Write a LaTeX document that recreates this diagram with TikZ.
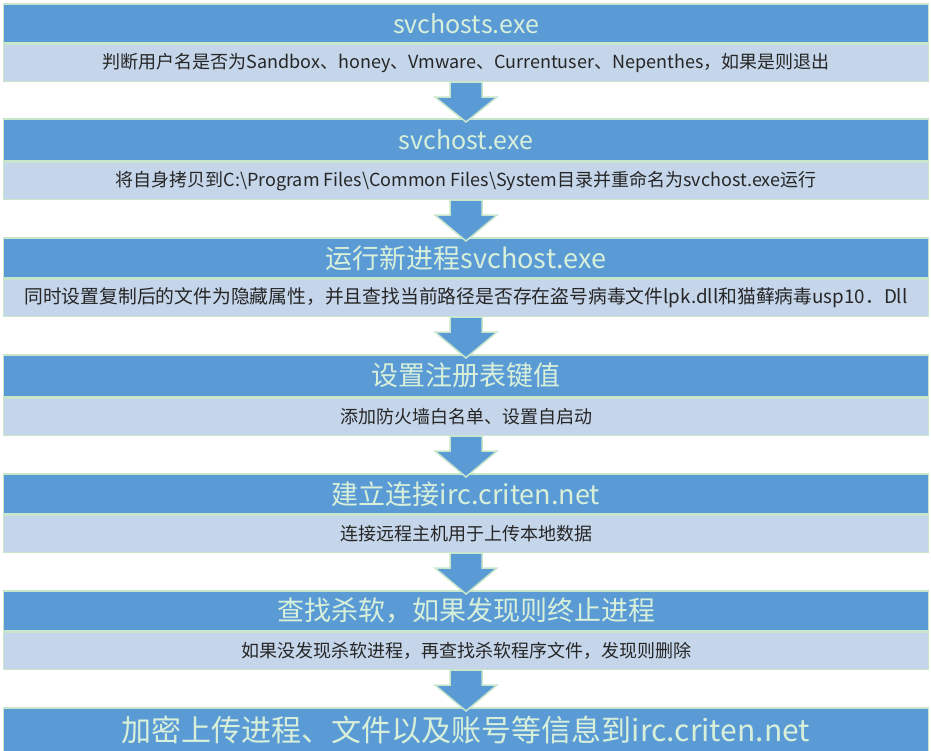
\documentclass[tikz,border=0pt]{standalone}
\usepackage{fontspec}
\setmainfont{Noto Sans CJK SC}
\usetikzlibrary{calc}
\definecolor{hblue}{HTML}{5B9BD5}
\definecolor{sblue}{HTML}{C5D5EA}
\definecolor{gline}{HTML}{C8E6CB}
\definecolor{htext}{HTML}{D8F0DA}
\tikzset{
 hdr/.style={draw=gline,line width=1.5pt,fill=hblue,text=htext,minimum width=925pt,inner sep=0pt,anchor=north},
 sub/.style={draw=gline,line width=1.5pt,fill=sblue,text=black!85,minimum width=925pt,minimum height=37pt,inner sep=0pt,anchor=north,font=\fontsize{18}{20}\selectfont},
 arr/.style={draw=gline,line width=1.5pt,fill=hblue}
}
\newcommand{\downarr}[2]{\draw[arr] ($(#1.south)+(-16,0)$) -- ++(0,15) -- ++(-15,0) -- ($(#2.north)+(0,4)$) -- ($(#1.south)+(31,15)$) -- ++(-15,0) -- ($(#1.south)+(16,0)$) -- cycle;}
\begin{document}
\begin{tikzpicture}[x=1pt,y=-1pt]
\useasboundingbox (0,0) rectangle (931,750);
\node[hdr,minimum height=39pt,font=\fontsize{25}{27}\selectfont] (h1) at (466,3) {svchosts.exe};
\node[sub] (s1) at (h1.south) {判断用户名是否为Sandbox、honey、Vmware、Currentuser、Nepenthes，如果是则退出};
\node[hdr,minimum height=42pt,font=\fontsize{25}{27}\selectfont] (h2) at (466,118) {svchost.exe};
\node[sub] (s2) at (h2.south) {将自身拷贝到C:\textbackslash Program Files\textbackslash Common Files\textbackslash System目录并重命名为svchost.exe运行};
\node[hdr,minimum height=40pt,font=\fontsize{27}{29}\selectfont] (h3) at (466,237) {运行新进程svchost.exe};
\node[sub,font=\fontsize{18.8}{20}\selectfont] (s3) at (h3.south) {同时设置复制后的文件为隐藏属性，并且查找当前路径是否存在盗号病毒文件lpk.dll和猫藓病毒usp10．Dll};
\node[hdr,minimum height=42pt,font=\fontsize{27}{29}\selectfont] (h4) at (466,354) {设置注册表键值};
\node[sub] (s4) at (h4.south) {添加防火墙白名单、设置自启动};
\node[hdr,minimum height=40pt,font=\fontsize{27}{29}\selectfont] (h5) at (466,473) {建立连接irc.criten.net};
\node[sub] (s5) at (h5.south) {连接远程主机用于上传本地数据};
\node[hdr,minimum height=40pt,font=\fontsize{27}{29}\selectfont] (h6) at (466,590) {查找杀软，如果发现则终止进程};
\node[sub] (s6) at (h6.south) {如果没发现杀软进程，再查找杀软程序文件，发现则删除};
\node[hdr,minimum height=44pt,font=\fontsize{30}{32}\selectfont] (h7) at (466,707) {加密上传进程、文件以及账号等信息到irc.criten.net};
\downarr{s1}{h2}
\downarr{s2}{h3}
\downarr{s3}{h4}
\downarr{s4}{h5}
\downarr{s5}{h6}
\downarr{s6}{h7}
\end{tikzpicture}
\end{document}
